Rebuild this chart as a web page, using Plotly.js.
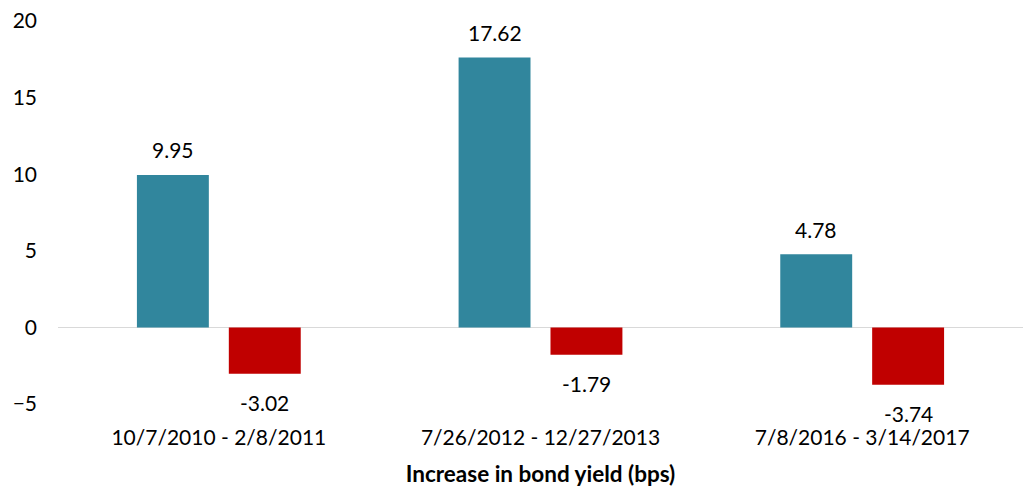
<!DOCTYPE html>
<html>
<head>
<meta charset="utf-8">
<script src="https://cdn.plot.ly/plotly-3.0.1.min.js"></script>
<style>html,body{margin:0;padding:0;background:#fff;}#chart{width:1029px;height:487px;}</style>
</head>
<body>
<div id="chart"></div>
<script>
const categories = ['10/7/2010 - 2/8/2011', '7/26/2012 - 12/27/2013', '7/8/2016 - 3/14/2017'];
const seriesA = [9.95, 17.62, 4.78];
const seriesB = [-3.02, -1.79, -3.74];
const yTicks = [-5, 0, 5, 10, 15, 20];

const FONT = 'Lato, "Open Sans", sans-serif';
const blue = '#31869D';
const red = '#C00000';

const traces = [
  {type: 'bar', x: categories, y: seriesA, marker: {color: blue}, name: 'A', hoverinfo: 'none'},
  {type: 'bar', x: categories, y: seriesB, marker: {color: red}, name: 'B', hoverinfo: 'none'}
];

const annotations = [];
[seriesA, seriesB].forEach((s, si) => {
  s.forEach((v, i) => {
    annotations.push({
      x: categories[i], y: v, xref: 'x', yref: 'y',
      text: v.toFixed(2), showarrow: false,
      xshift: si === 0 ? -46 : 46,
      yshift: v >= 0 ? 25 : -29,
      yanchor: 'middle', xanchor: 'center',
      font: {family: FONT, size: 21, color: '#000'}
    });
  });
});

const layout = {
  width: 1029, height: 487,
  margin: {l: 58, r: 6, t: 21, b: 83},
  paper_bgcolor: '#fff', plot_bgcolor: '#fff',
  showlegend: false,
  barmode: 'group', bargap: 0.4286, bargroupgap: 0.2174,
  font: {family: FONT, size: 21, color: '#000'},
  xaxis: {
    type: 'category', showgrid: false, showline: false, zeroline: false,
    ticks: '', ticklabelstandoff: 19,
    tickfont: {family: FONT, size: 21, color: '#000'},
    title: {text: '<b>Increase in bond yield (bps)</b>', font: {family: FONT, size: 22.5, color: '#000'}, standoff: 28}
  },
  yaxis: {
    range: [-5, 20], tickvals: yTicks, showgrid: false, showline: false,
    zeroline: true, zerolinecolor: '#D9D9D9', zerolinewidth: 1.5,
    ticks: '', ticklabelstandoff: 20,
    tickfont: {family: FONT, size: 21, color: '#000'}
  },
  annotations: annotations
};

Plotly.newPlot('chart', traces, layout, {displayModeBar: false, staticPlot: true});
</script>
</body>
</html>
